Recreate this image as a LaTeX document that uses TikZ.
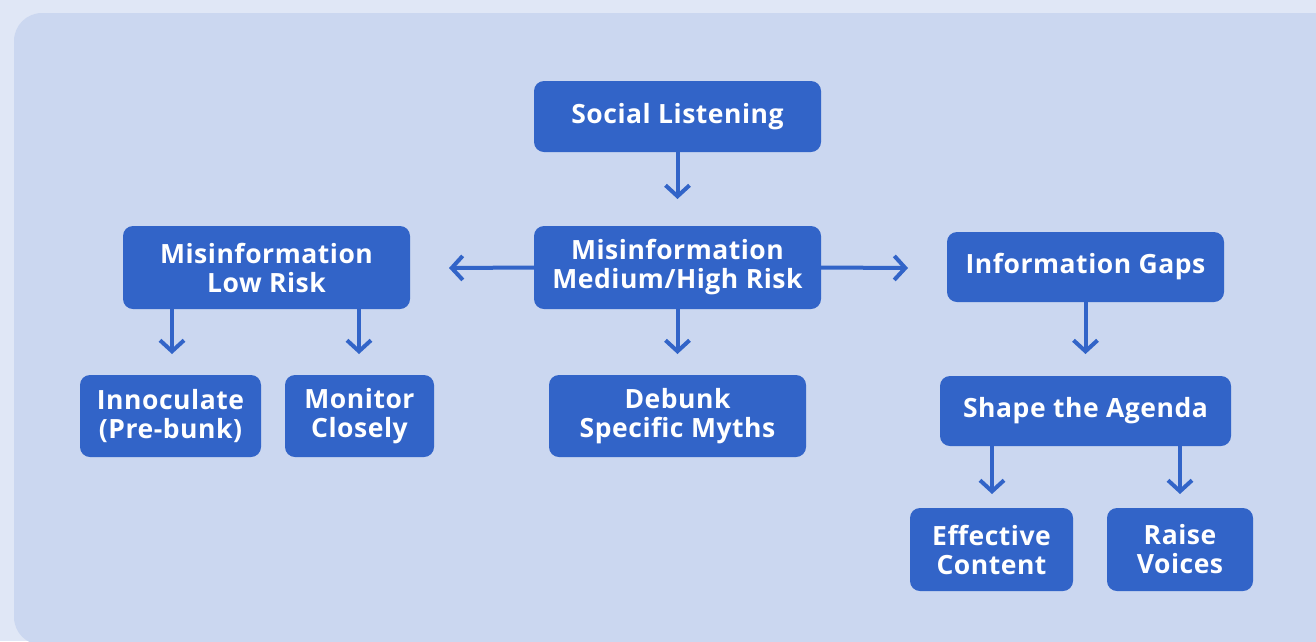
\documentclass[tikz,border=0pt]{standalone}
\usepackage{fontspec}
\setmainfont{Open Sans}[LetterSpace=2]
\usetikzlibrary{arrows.meta}
\definecolor{outerbg}{HTML}{E0E7F6}
\definecolor{panelbg}{HTML}{CBD7F0}
\definecolor{boxblue}{HTML}{3264C8}
\tikzset{
  box/.style={fill=boxblue, rounded corners=10pt, text=white, font=\fontsize{26.5}{29}\selectfont\bfseries, align=center, inner sep=0pt},
  conn/.style={draw=boxblue, line width=4pt, -{Straight Barb[length=11pt,width=24pt]}},
}
\begin{document}
\begin{tikzpicture}[x=1pt,y=-1pt]
\useasboundingbox (0,0) rectangle (1316,641);
\fill[outerbg] (0,0) rectangle (1316,641);
\fill[panelbg, rounded corners=28pt] (14,13) rectangle (1340,645);
% boxes
\node[box, minimum width=287pt, minimum height=71pt] (sl) at (677.5,116.5) {Social Listening};
\node[box, minimum width=287pt, minimum height=83pt] (mh) at (677.5,267.5) {Misinformation\\Medium/High Risk};
\node[box, minimum width=287pt, minimum height=83pt] (lr) at (266.5,267.5) {Misinformation\\Low Risk};
\node[box, minimum width=277pt, minimum height=70pt] (ig) at (1085.5,267) {Information Gaps};
\node[box, minimum width=181pt, minimum height=82pt] (in) at (170.5,416) {Innoculate\\(Pre-bunk)};
\node[box, minimum width=149pt, minimum height=82pt] (mc) at (359.5,416) {Monitor\\Closely};
\node[box, minimum width=257pt, minimum height=82pt] (db) at (677.5,416) {Debunk\\Specific Myths};
\node[box, minimum width=291pt, minimum height=70pt] (sa) at (1085.5,411) {Shape the Agenda};
\node[box, minimum width=163pt, minimum height=83pt] (ec) at (991.5,549.5) {Effective\\Content};
\node[box, minimum width=146pt, minimum height=83pt] (rv) at (1180,549.5) {Raise\\Voices};
% arrow tips
\coordinate (t1) at (677.5,199);
\coordinate (t2) at (449,268);
\coordinate (t3) at (908,268);
\coordinate (t4) at (172,354);
\coordinate (t5) at (359,354);
\coordinate (t6) at (677.5,354);
\coordinate (t7) at (1085.5,354);
\coordinate (t8) at (992,494);
\coordinate (t9) at (1180,494);
\draw[conn] (sl.south) -- (t1);
\draw[conn] (mh.west) -- (t2);
\draw[conn] (mh.east) -- (t3);
\draw[conn] (lr.south -| t4) -- (t4);
\draw[conn] (lr.south -| t5) -- (t5);
\draw[conn] (mh.south) -- (t6);
\draw[conn] (ig.south) -- (t7);
\draw[conn] (sa.south -| t8) -- (t8);
\draw[conn] (sa.south -| t9) -- (t9);
\end{tikzpicture}
\end{document}
